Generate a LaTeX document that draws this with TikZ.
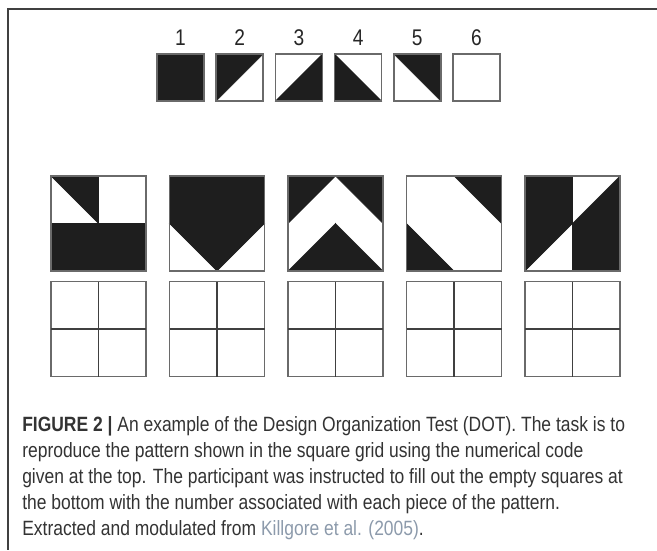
\documentclass[tikz,border=0pt]{standalone}
\usepackage{fontspec}
\setmainfont{Liberation Sans}
\newfontfamily\capfont[FakeStretch=0.845]{Liberation Sans}
\definecolor{capgray}{HTML}{333333}
\definecolor{citeblue}{HTML}{8C9AAB}
\definecolor{piecefill}{HTML}{1E1E1E}
\definecolor{edgegray}{HTML}{6A6A6A}

% one piece of the code: #1 type, #2 x, #3 y (top left), #4 size
\newcommand{\dotcell}[4]{%
  \ifcase#1\or
    \filldraw[cellfill] (#2,#3) rectangle ++(#4,#4);\or
    \filldraw[cellfill] (#2,#3) -- ++(#4,0) -- ++(-#4,#4) -- cycle;\or
    \filldraw[cellfill] (#2,#3) ++(0,#4) -- ++(#4,0) -- ++(0,-#4) -- cycle;\or
    \filldraw[cellfill] (#2,#3) -- ++(0,#4) -- ++(#4,0) -- cycle;\or
    \filldraw[cellfill] (#2,#3) -- ++(#4,0) -- ++(0,#4) -- cycle;\or
  \fi}

\begin{document}
\begin{tikzpicture}[x=0.75pt,y=-0.75pt,line join=miter,
    cellfill/.style={fill=piecefill,draw=piecefill,line width=0.4pt},
    boxedge/.style={draw=edgegray,line width=1.1pt},
    gridline/.style={draw=black!75,line width=1.1pt},
    framestyle/.style={draw=black!75,line width=1.1pt},
    numlabel/.style={font=\capfont\fontsize{17}{20}\selectfont,text=black!85,inner sep=0pt},
    capline/.style={font=\capfont\fontsize{15.5}{18}\selectfont,text=capgray,inner sep=0pt,anchor=base west}]
  \useasboundingbox (0,0) rectangle (657,550);
  \draw[framestyle] (657,9) -- (8,9) -- (8,550);
  % numerical code
  \foreach \k [count=\i from 0] in {1,...,6}{
    \pgfmathsetmacro{\xx}{157+59.2*\i}
    \dotcell{\k}{\xx}{54}{47}
    \draw[boxedge] (\xx,54) rectangle ++(47,47);
    \node[numlabel] (num\k) at (\xx+23.5,38) {\k};
  }
  % patterns and empty grids
  \foreach \a/\b/\c/\d [count=\i from 0] in {5/6/1/1,1/1/5/2,2/5/3/4,6/5/4/6,1/3/2/1}{
    \pgfmathsetmacro{\xx}{51+118.5*\i}
    \dotcell{\a}{\xx}{176}{47.5}
    \dotcell{\b}{\xx+47.5}{176}{47.5}
    \dotcell{\c}{\xx}{223.5}{47.5}
    \dotcell{\d}{\xx+47.5}{223.5}{47.5}
    \draw[boxedge] (\xx,176) rectangle ++(95,95);
    \draw[boxedge] (\xx,281.5) rectangle ++(95,95);
    \draw[gridline] (\xx+47.5,281.5) -- ++(0,95) (\xx,329) -- ++(95,0);
  }
  % caption
  \node[capline] (cap1) at (22,431) {\textbf{FIGURE 2 |} An example of the Design Organization Test (DOT). The task is to};
  \node[capline] (cap2) at (22,457) {reproduce the pattern shown in the square grid using the numerical code};
  \node[capline] (cap3) at (22,483) {given at the top. The participant was instructed to fill out the empty squares at};
  \node[capline] (cap4) at (22,509) {the bottom with the number associated with each piece of the pattern.};
  \node[capline] (cap5) at (22,535) {Extracted and modulated from \textcolor{citeblue}{Killgore et al. (2005)}.};
\end{tikzpicture}
\end{document}
